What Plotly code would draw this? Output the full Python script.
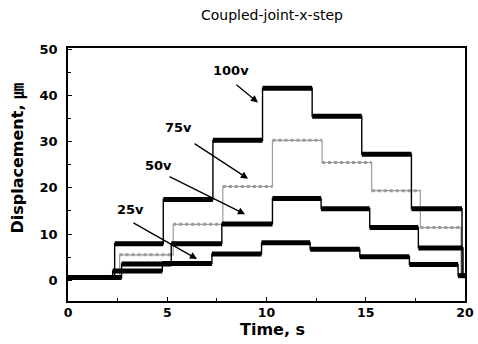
import plotly.graph_objects as go

# Step responses of the coupled joint (x direction) for four input voltages
t_100v = [0, 2.35, 4.8, 7.3, 9.8, 12.3, 14.8, 17.3, 19.85, 20]
d_100v = [0.6, 7.9, 17.5, 30.3, 41.6, 35.5, 27.3, 15.5, 1.0, 1.0]

t_75v = [0, 2.6, 5.3, 7.8, 10.3, 12.8, 15.3, 17.75, 19.8, 20]
d_75v = [0.6, 5.5, 12.1, 20.3, 30.3, 25.5, 19.4, 11.4, 1.0, 1.0]

t_50v = [0, 2.7, 5.2, 7.75, 10.3, 12.75, 15.2, 17.65, 19.9, 20]
d_50v = [0.6, 3.5, 7.9, 12.2, 17.7, 15.5, 11.4, 7.0, 1.0, 1.0]

t_25v = [0, 2.25, 4.75, 7.25, 9.75, 12.2, 14.7, 17.2, 19.65, 20]
d_25v = [0.6, 2.0, 3.6, 5.7, 8.1, 6.7, 5.1, 3.4, 1.0, 1.0]

x_ticks = [0, 5, 10, 15, 20]
y_ticks = [0, 10, 20, 30, 40, 50]

# label text, label position, arrow tail, arrow tip (data units)
labels = ["100v", "75v", "50v", "25v"]
label_pos = [(8.21, 45.4), (5.59, 33.0), (4.58, 24.9), (3.17, 15.4)]
arrow_tail = [(8.41, 42.6), (6.30, 29.8), (5.04, 22.6), (3.22, 12.6)]
arrow_tip = [(9.57, 38.5), (9.07, 22.0), (8.92, 14.3), (6.50, 4.6)]

BOLD = "DejaVu Sans, Noto Sans CJK KR"


def plateaus(t, d):
    """Horizontal hold segments of a step trace, separated by gaps."""
    xs, ys = [], []
    for i in range(len(t) - 1):
        xs += [t[i], t[i + 1], None]
        ys += [d[i], d[i], None]
    return xs, ys


fig = go.Figure()

# 75 V trace: light grey dotted record
fig.add_trace(go.Scatter(x=t_75v, y=d_75v, mode="lines", line_shape="hv",
                         line=dict(color="#9c9c9c", width=1.2),
                         showlegend=False, hoverinfo="skip"))
px, py = plateaus(t_75v, d_75v)
fig.add_trace(go.Scatter(x=px, y=py, mode="lines",
                         line=dict(color="#9c9c9c", width=3, dash="dot"),
                         showlegend=False, hoverinfo="skip"))

# 100 V, 50 V and 25 V traces: heavy black records
for t, d in [(t_25v, d_25v), (t_50v, d_50v), (t_100v, d_100v)]:
    fig.add_trace(go.Scatter(x=t, y=d, mode="lines", line_shape="hv",
                             line=dict(color="black", width=1.4),
                             showlegend=False, hoverinfo="skip"))
    px, py = plateaus(t, d)
    fig.add_trace(go.Scatter(x=px, y=py, mode="lines",
                             line=dict(color="black", width=5),
                             showlegend=False, hoverinfo="skip"))

annotations = []
for lab, (lx, ly), (ax, ay), (tx, ty) in zip(labels, label_pos, arrow_tail, arrow_tip):
    annotations.append(dict(x=tx, y=ty, ax=ax, ay=ay, xref="x", yref="y",
                            axref="x", ayref="y", text="", showarrow=True,
                            arrowhead=2, arrowsize=1.1, arrowwidth=1.3,
                            arrowcolor="black", standoff=0, startstandoff=0))
    annotations.append(dict(x=lx, y=ly, xref="x", yref="y", text=lab,
                            showarrow=False, xanchor="center", yanchor="middle",
                            font=dict(family=BOLD, size=13, color="black",
                                      weight="bold")))

# axis titles
annotations.append(dict(x=0.514, y=-0.112, xref="paper", yref="paper",
                        text="Time, s", showarrow=False,
                        xanchor="center", yanchor="middle",
                        font=dict(family=BOLD, size=16, color="black", weight="bold")))
annotations.append(dict(x=-0.126, y=0.567, xref="paper", yref="paper",
                        text="Displacement, ㎛", textangle=-90, showarrow=False,
                        xanchor="center", yanchor="middle",
                        font=dict(family=BOLD, size=16, color="black", weight="bold")))

fig.update_layout(
    width=478, height=344,
    margin=dict(l=68, r=13, t=48, b=43, autoexpand=False),
    paper_bgcolor="white", plot_bgcolor="white",
    title=dict(text="Coupled-joint-x-step", x=0.569, xref="container",
               y=0.956, yref="container", xanchor="center", yanchor="middle",
               font=dict(family="DejaVu Sans", size=14, color="black")),
    annotations=annotations,
    showlegend=False,
)

fig.update_xaxes(range=[0, 20], tickvals=x_ticks, ticktext=[str(v) for v in x_ticks],
                 automargin=False, ticklabelstandoff=-1,
                 showgrid=False, zeroline=False, showline=True, mirror=True,
                 linecolor="black", linewidth=1.5, ticks="inside", ticklen=4,
                 tickcolor="black", tickwidth=1.2,
                 minor=dict(dtick=2.5, ticks="inside", ticklen=3, tickcolor="black"),
                 tickfont=dict(family=BOLD, size=12.5, color="black", weight="bold"))
fig.update_yaxes(range=[-4.5, 50.3], tickvals=y_ticks, ticktext=[str(v) for v in y_ticks],
                 automargin=False, ticklabelstandoff=6,
                 showgrid=False, zeroline=False, showline=True, mirror=True,
                 linecolor="black", linewidth=1.5, ticks="inside", ticklen=4,
                 tickcolor="black", tickwidth=1.2,
                 minor=dict(dtick=5, ticks="inside", ticklen=3, tickcolor="black"),
                 tickfont=dict(family=BOLD, size=13, color="black", weight="bold"))

fig.write_html("out.html")
